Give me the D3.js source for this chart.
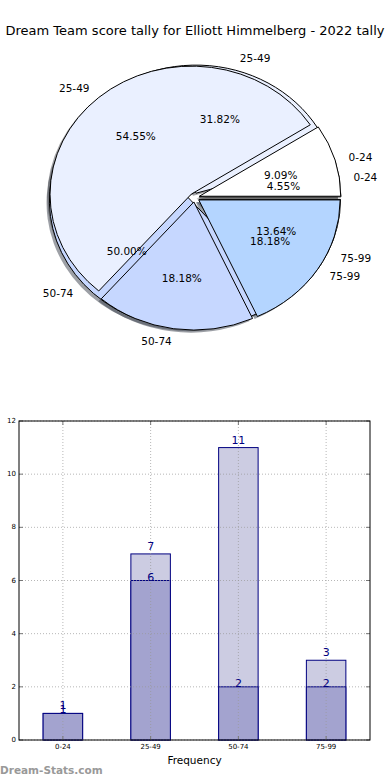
<!DOCTYPE html>
<html><head><meta charset="utf-8">
<script src="https://cdn.jsdelivr.net/npm/d3@7"></script>
<style>body{margin:0;background:#fff}svg{display:block}</style>
</head><body>
<svg id="c" width="390" height="780"></svg>
<script>
const categories = ["0-24","25-49","50-74","75-99"];
const allScores = [1,7,11,3];      // back series (lighter bars, pie total 22)
const topScores = [1,6,2,2];       // front series (darker bars, pie total 11)
const yTicks = [0,2,4,6,8,10,12];
const titleText = "Dream Team score tally for Elliott Himmelberg - 2022 tally";
const pieColors = ["#ffffff","#eaf0ff","#c6d7ff","#b4d5ff"];

const svg = d3.select("#c");
const font = "DejaVu Sans, sans-serif";

svg.append("text").attr("x",195).attr("y",35).attr("text-anchor","middle")
  .attr("font-family",font).attr("font-size",13).text(titleText);

// ---------- PIE ----------
const cx=194.6, cy=197.5, rx=141.4, ry=128.1, ex=0.035;
const pieGen = d3.pie().sort(null).startAngle(0).endAngle(2*Math.PI);
const arcGen = d3.arc().innerRadius(0).outerRadius(1);
function wedges(vals){
  const tot = d3.sum(vals);
  return pieGen(vals).map((p,i)=>{
    const t1=p.startAngle, t2=p.endAngle, mid=(t1+t2)/2;
    return {i, t1, t2, mid, pct: (100*vals[i]/tot).toFixed(2)+"%",
      sx: ex*rx*Math.cos(mid), sy: ex*ry*Math.sin(mid)};
  });
}
const wB = wedges(allScores), wA = wedges(topScores);
function wedgePath(w){
  return arcGen({startAngle: Math.PI/2 - w.t2, endAngle: Math.PI/2 - w.t1});
}
const pieG = svg.append("g");
function drawShadows(ws){
  ws.forEach(w=>{
    const c = d3.rgb(pieColors[w.i]);
    pieG.append("path").attr("d",wedgePath(w))
      .attr("transform",`translate(${cx+w.sx-0.02*rx},${cy-w.sy+0.02*ry}) scale(${rx},${ry})`)
      .attr("fill",d3.rgb(c.r*0.3,c.g*0.3,c.b*0.3)).attr("fill-opacity",0.5).attr("stroke","none");
  });
}
function drawWedges(ws){
  ws.forEach(w=>{
    pieG.append("path").attr("d",wedgePath(w))
      .attr("transform",`translate(${cx+w.sx},${cy-w.sy}) scale(${rx},${ry})`)
      .attr("fill",pieColors[w.i]).attr("stroke","#000").attr("stroke-width",1)
      .attr("vector-effect","non-scaling-stroke").attr("stroke-linejoin","miter");
  });
}
function drawTexts(ws){
  ws.forEach(w=>{
    const c=Math.cos(w.mid), s=Math.sin(w.mid);
    pieG.append("text").attr("x",cx+w.sx+1.1*rx*c).attr("y",cy-w.sy-1.1*ry*s)
      .attr("text-anchor", c>0?"start":"end").attr("dominant-baseline","central")
      .attr("font-family",font).attr("font-size",10.5).text(categories[w.i]);
    pieG.append("text").attr("x",cx+w.sx+0.6*rx*c).attr("y",cy-w.sy-0.6*ry*s)
      .attr("text-anchor","middle").attr("dominant-baseline","central")
      .attr("font-family",font).attr("font-size",10.5).text(w.pct);
  });
}
drawShadows(wB); drawShadows(wA);
drawWedges(wB); drawWedges(wA);
drawTexts(wB); drawTexts(wA);

// ---------- BARS ----------
const L=19, R=370, T=421, B=740;
const x = d3.scaleBand().domain(categories).range([L,R]).paddingInner(0.55).paddingOuter(0.275);
const y = d3.scaleLinear().domain([0,12]).range([B,T]);
const bg = svg.append("g");
const navy = "#000080";

bg.selectAll(".bb").data(categories).join("rect")
  .attr("x",d=>x(d)).attr("width",x.bandwidth())
  .attr("y",(d,i)=>y(allScores[i])).attr("height",(d,i)=>B-y(allScores[i]))
  .attr("fill","#ccccE2").attr("stroke",navy).attr("stroke-width",1);
bg.selectAll(".fb").data(categories).join("rect")
  .attr("x",d=>x(d)).attr("width",x.bandwidth())
  .attr("y",(d,i)=>y(topScores[i])).attr("height",(d,i)=>B-y(topScores[i]))
  .attr("fill","#a3a3cf").attr("stroke",navy).attr("stroke-width",1);

// grid
const gridG = svg.append("g").attr("stroke","#999").attr("stroke-width",1)
  .attr("stroke-dasharray","1,2").attr("stroke-opacity",0.7);
yTicks.forEach(t=>{
  gridG.append("line").attr("x1",L).attr("x2",R).attr("y1",y(t)).attr("y2",y(t));
});
categories.forEach(c=>{
  const xc = x(c)+x.bandwidth()/2;
  gridG.append("line").attr("x1",xc).attr("x2",xc).attr("y1",T).attr("y2",B);
});

// ticks (inward, all sides)
const tickG = svg.append("g").attr("stroke","#777").attr("stroke-width",1);
yTicks.forEach(t=>{
  tickG.append("line").attr("x1",L).attr("x2",L+4).attr("y1",y(t)).attr("y2",y(t));
  tickG.append("line").attr("x1",R-4).attr("x2",R).attr("y1",y(t)).attr("y2",y(t));
});
categories.forEach(c=>{
  const xc = x(c)+x.bandwidth()/2;
  tickG.append("line").attr("x1",xc).attr("x2",xc).attr("y1",B-4).attr("y2",B);
  tickG.append("line").attr("x1",xc).attr("x2",xc).attr("y1",T).attr("y2",T+4);
});

svg.append("rect").attr("x",L).attr("y",T).attr("width",R-L).attr("height",B-T)
  .attr("fill","none").attr("stroke","#000").attr("stroke-width",1);

// tick labels
yTicks.forEach(t=>{
  svg.append("text").attr("x",16).attr("y",y(t)).attr("text-anchor","end")
    .attr("dominant-baseline","central").attr("font-family",font).attr("font-size",7).text(t);
});
categories.forEach(c=>{
  svg.append("text").attr("x",x(c)+x.bandwidth()/2).attr("y",747).attr("text-anchor","middle")
    .attr("dominant-baseline","central").attr("font-family",font).attr("font-size",7).text(c);
});
svg.append("text").attr("x",194.5).attr("y",764).attr("text-anchor","middle")
  .attr("font-family",font).attr("font-size",10.5).text("Frequency");

// value labels
categories.forEach((c,i)=>{
  const xc = x(c)+x.bandwidth()/2;
  svg.append("text").attr("x",xc).attr("y",y(allScores[i])-4).attr("text-anchor","middle")
    .attr("font-family",font).attr("font-size",11).attr("fill",navy).text(allScores[i]);
  svg.append("text").attr("x",xc).attr("y",y(topScores[i])).attr("text-anchor","middle")
    .attr("font-family",font).attr("font-size",11).attr("fill",navy).text(topScores[i]);
});

// watermark
svg.append("text").attr("x",0).attr("y",774).attr("font-family",font).attr("font-weight","bold")
  .attr("font-size",10.5).attr("fill","#999").text("Dream-Stats.com");
</script>
</body></html>
